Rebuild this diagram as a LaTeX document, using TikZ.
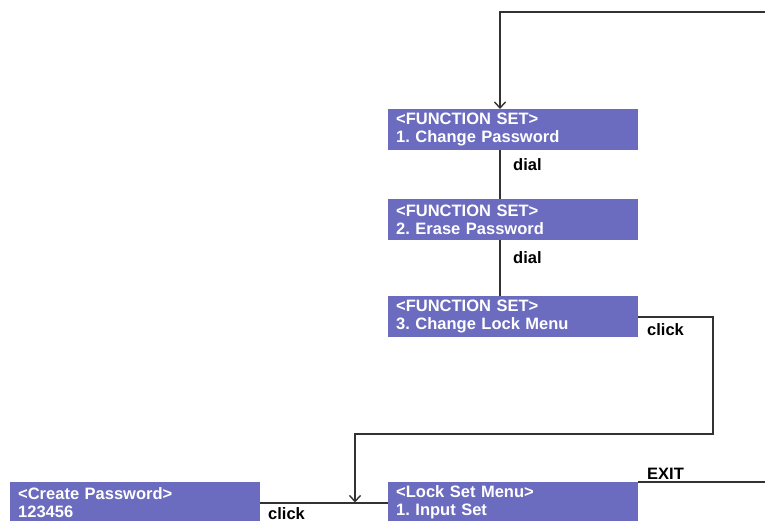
\documentclass[tikz,border=0pt]{standalone}
\usepackage{fontspec}
\setmainfont{Liberation Sans}
\usetikzlibrary{arrows.meta}
\definecolor{boxblue}{RGB}{107,107,192}
\definecolor{linegray}{RGB}{50,50,50}
\frenchspacing
\begin{document}
\begin{tikzpicture}[x=1pt,y=-1pt,
 screen/.style={fill=boxblue, text=white, minimum width=250pt, minimum height=41pt,
   text width=234pt, inner xsep=8pt, align=left,
   font=\fontsize{16.5}{18}\selectfont\bfseries, anchor=north west},
 conn/.style={draw=linegray, line width=1.7pt},
 arr/.style={conn, -{Straight Barb[length=6pt,width=11pt,line width=1.4pt]}},
 lbl/.style={font=\fontsize{16.5}{18}\selectfont\bfseries, text=black, inner sep=0pt, anchor=base west}]
\useasboundingbox (0,0) rectangle (765,521);
\clip (0,0) rectangle (765,521);

\node[screen] (b1) at (388,109) {<FUNCTION SET>\\1. Change Password};
\node[screen] (b2) at (388,199) {<FUNCTION SET>\\2. Erase Password};
\node[screen] (b3) at (388,296) {<FUNCTION SET>\\3. Change Lock Menu};
\node[screen] (b4) at (388,482) {<Lock Set Menu>\\1. Input Set};
\node[screen] (b5) at (10,482) {<Create Password>\\123456};

\coordinate (topR) at (765,12);
\coordinate (tc) at (500,12);
\coordinate (c1) at (713,434);
\coordinate (m) at (355,502.5);
\coordinate (exitR) at (765,482);

\draw[arr] (topR) -- (tc) -- (b1.north west -| tc);
\draw[conn] (b1.south west -| tc) -- (b2.north west -| tc);
\draw[conn] (b2.south west -| tc) -- (b3.north west -| tc);
\draw[arr] (b3.east) -| (c1) -- (c1 -| m) -- (m);
\draw[conn] (b5.east) -- (b4.west);
\draw[conn] (b4.north east) -- (exitR);

\node[lbl] (d1) at (513,171) {dial};
\node[lbl] (d2) at (513,263) {dial};
\node[lbl] (k1) at (647,335) {click};
\node[lbl] (k2) at (268,519) {click};
\node[lbl] (ex) at (647,479) {EXIT};
\end{tikzpicture}
\end{document}
